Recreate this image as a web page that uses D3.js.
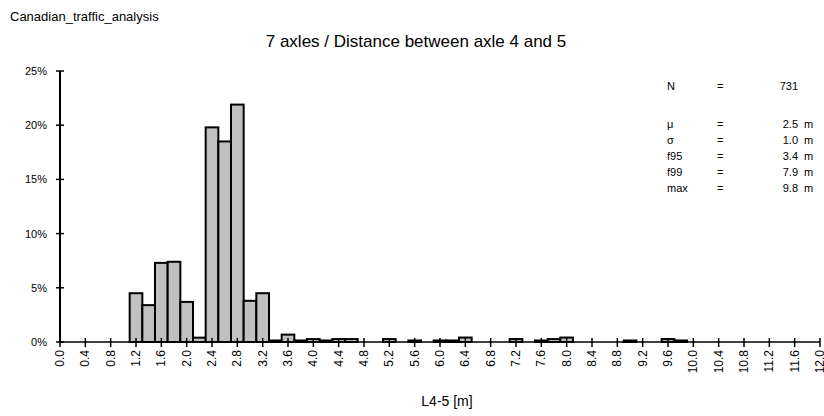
<!DOCTYPE html>
<html lang="en">
<head>
<meta charset="utf-8">
<title>Canadian traffic - L4-5</title>
<script src="https://d3js.org/d3.v7.min.js"></script>
<style>
  body { margin: 0; background: #fff; }
  text { font-family: "Liberation Sans", Arial, sans-serif; fill: #000; }
</style>
</head>
<body>
<script>
// bin centres [m] and share of vehicles [%]
var binCentres = [1.2, 1.4, 1.6, 1.8, 2.0, 2.2, 2.4, 2.6, 2.8, 3.0, 3.2, 3.4, 3.6, 3.8, 4.0,
                  4.2, 4.4, 4.6, 5.2, 5.6, 6.0, 6.2, 6.4, 7.2, 7.6, 7.8, 8.0, 9.0, 9.6, 9.8];
var shares = [4.5, 3.4, 7.3, 7.4, 3.7, 0.4, 19.8, 18.5, 21.9, 3.8, 4.5, 0.14, 0.68, 0.14, 0.27,
              0.14, 0.27, 0.27, 0.27, 0.14, 0.14, 0.14, 0.41, 0.27, 0.14, 0.27, 0.41, 0.14, 0.27, 0.14];
var binWidth = 0.2;

var xTickLabels = ["0.0","0.4","0.8","1.2","1.6","2.0","2.4","2.8","3.2","3.6","4.0","4.4","4.8",
                   "5.2","5.6","6.0","6.4","6.8","7.2","7.6","8.0","8.4","8.8","9.2","9.6","10.0",
                   "10.4","10.8","11.2","11.6","12.0"];
var yTicks = [0, 5, 10, 15, 20, 25];

var statNames = ["N", "\u03bc", "\u03c3", "f95", "f99", "max"];
var statValues = ["731", "2.5", "1.0", "3.4", "7.9", "9.8"];
var statUnits = ["", "m", "m", "m", "m", "m"];

var w = 824, h = 416;
var svg = d3.select("body").append("svg").attr("width", w).attr("height", h);

var x = d3.scaleLinear().domain([0, 12]).range([60, 820]);
var y = d3.scaleLinear().domain([0, 25]).range([342, 71]);

// titles
svg.append("text").attr("x", 10).attr("y", 21).style("font-size", "13px")
   .text("Canadian_traffic_analysis");
svg.append("text").attr("x", 416).attr("y", 47).attr("text-anchor", "middle")
   .style("font-size", "17px")
   .text("7 axles / Distance between axle 4 and 5");

// bars
svg.selectAll("rect.bar")
   .data(binCentres)
   .enter()
   .append("rect")
   .attr("class", "bar")
   .attr("x", function(d){ return x(d - binWidth / 2); })
   .attr("width", function(d){ return x(binWidth) - x(0); })
   .attr("y", function(d, i){ return y(shares[i]); })
   .attr("height", function(d, i){ return y(0) - y(shares[i]); })
   .attr("fill", "#c0c0c0")
   .attr("stroke", "#000")
   .attr("stroke-width", 2);

// y axis
var yAxis = svg.append("g");
yAxis.append("line").attr("x1", x(0)).attr("x2", x(0)).attr("y1", y(0)).attr("y2", y(25))
     .attr("stroke", "#000").attr("stroke-width", 2);
yAxis.selectAll("line.tick").data(yTicks).enter().append("line")
     .attr("x1", x(0) - 4).attr("x2", x(0) + 4)
     .attr("y1", function(d){ return y(d); }).attr("y2", function(d){ return y(d); })
     .attr("stroke", "#000").attr("stroke-width", 1.5);
yAxis.selectAll("text").data(yTicks).enter().append("text")
     .attr("x", 47).attr("y", function(d){ return y(d) + 4; })
     .attr("text-anchor", "end").style("font-size", "11px")
     .text(function(d){ return d + "%"; });

// x axis
var xAxis = svg.append("g");
xAxis.append("line").attr("x1", x(0)).attr("x2", x(12)).attr("y1", y(0)).attr("y2", y(0))
     .attr("stroke", "#000").attr("stroke-width", 1.5);
xAxis.selectAll("line.tick").data(xTickLabels).enter().append("line")
     .attr("x1", function(d){ return x(+d); }).attr("x2", function(d){ return x(+d); })
     .attr("y1", y(0) - 4).attr("y2", y(0) + 5)
     .attr("stroke", "#000").attr("stroke-width", 1.5);
xAxis.selectAll("text").data(xTickLabels).enter().append("text")
     .attr("transform", function(d){ return "translate(" + (x(+d) + 4) + "," + 350 + ") rotate(-90)"; })
     .attr("text-anchor", "end").style("font-size", "12px")
     .text(function(d){ return d; });

svg.append("text").attr("x", 447).attr("y", 406).attr("text-anchor", "middle")
   .style("font-size", "14px").text("L4-5 [m]");

// statistics box
var statY = [86, 124, 140, 156, 172, 188];
var stats = svg.append("g").style("font-size", "11px");
stats.selectAll("text.name").data(statNames).enter().append("text")
     .attr("x", 667).attr("y", function(d, i){ return statY[i] + 4; }).text(function(d){ return d; });
stats.selectAll("text.eq").data(statNames).enter().append("text")
     .attr("x", 717).attr("y", function(d, i){ return statY[i] + 4; }).text("=");
stats.selectAll("text.val").data(statValues).enter().append("text")
     .attr("x", 798).attr("y", function(d, i){ return statY[i] + 4; })
     .attr("text-anchor", "end").text(function(d){ return d; });
stats.selectAll("text.unit").data(statUnits).enter().append("text")
     .attr("x", 804).attr("y", function(d, i){ return statY[i] + 4; }).text(function(d){ return d; });
</script>
</body>
</html>
